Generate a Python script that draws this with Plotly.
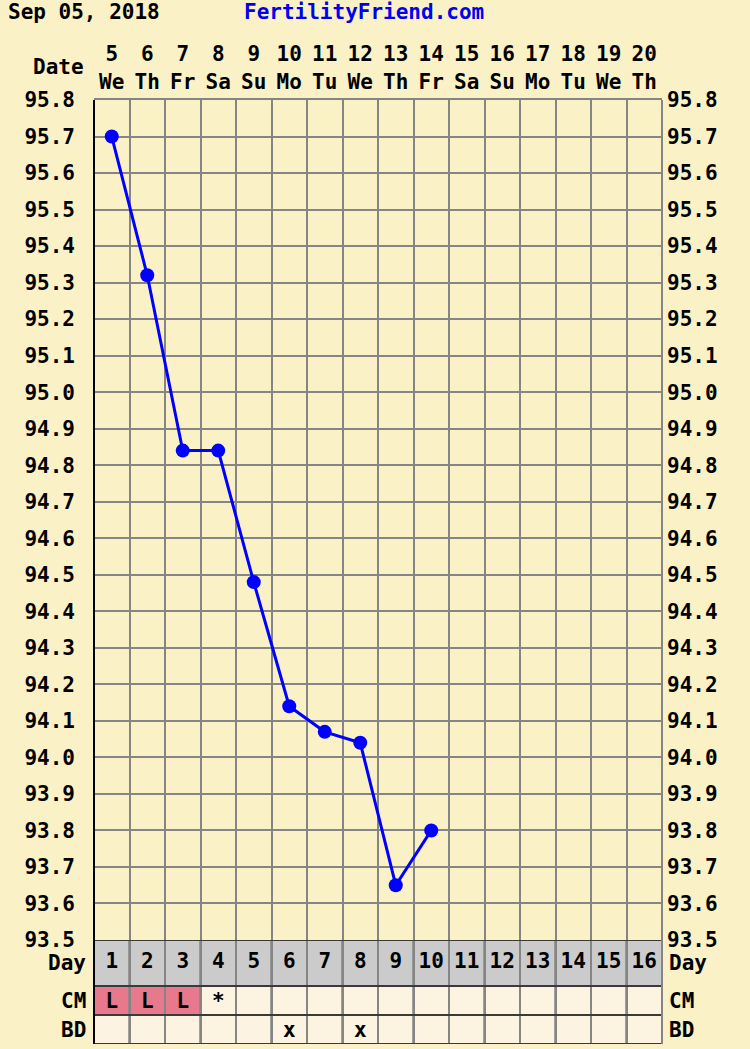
import plotly.graph_objects as go

# ---------------- data ----------------
dates = [5, 6, 7, 8, 9, 10, 11, 12, 13, 14, 15, 16, 17, 18, 19, 20]
weekdays = ["We", "Th", "Fr", "Sa", "Su", "Mo", "Tu", "We", "Th", "Fr",
            "Sa", "Su", "Mo", "Tu", "We", "Th"]
cycle_days = list(range(1, 17))
temps = [95.70, 95.32, 94.84, 94.84, 94.48, 94.14, 94.07, 94.04, 93.65, 93.80]
cm_values = ["L", "L", "L", "*", "", "", "", "", "", "", "", "", "", "", "", ""]
bd_values = ["", "", "", "", "", "x", "", "x", "", "", "", "", "", "", "", ""]
temp_ticks = [round(93.5 + 0.1 * i, 1) for i in range(24)]
title_date = "Sep 05, 2018"
site = "FertilityFriend.com"

# ---------------- style / layout constants ----------------
W, H = 750, 1049
ML, MR, MT, MB = 94, 88, 100, 5
PLOT_H = H - MT - MB
BAND = 104
ROW_EDGES = [0, 46, 75, 104]
D = BAND / PLOT_H

BG = "#FAF1C6"
GRID = "#858585"
DARK = "#3a3a3a"
DAYROW = "#CBCBCB"
CELL = "#FCF3E1"
PINK = "#E8798C"
BLUE = "#0000FF"
FONT = "DejaVu Sans Mono"
FS = 21

fig = go.Figure()
fig.add_trace(go.Scatter(
    x=cycle_days[:len(temps)], y=temps, mode="lines+markers",
    line=dict(color=BLUE, width=3), marker=dict(color=BLUE, size=14),
    xaxis="x", yaxis="y", showlegend=False, hoverinfo="skip"))

row_centers = [(ROW_EDGES[i] + ROW_EDGES[i + 1]) / 2 for i in range(3)]
tf = dict(family=FONT, size=FS, color="black", weight="bold")
for vals, yc in [([str(d) for d in cycle_days], row_centers[0]),
                 (cm_values, row_centers[1] + 2),
                 (bd_values, row_centers[2] + 2)]:
    fig.add_trace(go.Scatter(
        x=cycle_days, y=[yc] * len(cycle_days), mode="text",
        text=vals, textfont=tf,
        xaxis="x", yaxis="y2", showlegend=False, hoverinfo="skip"))

shapes = []
for i, d in enumerate(cycle_days):
    fills = [DAYROW, PINK if cm_values[i] == "L" else CELL, CELL]
    for r in range(3):
        shapes.append(dict(type="rect", xref="x", yref="y2",
                           x0=d - 0.5, x1=d + 0.5,
                           y0=ROW_EDGES[r], y1=ROW_EDGES[r + 1],
                           fillcolor=fills[r], line=dict(color=GRID, width=2),
                           layer="below"))
for e in ROW_EDGES:
    shapes.append(dict(type="line", xref="paper", yref="y2", x0=0, x1=1,
                       y0=e, y1=e, line=dict(color=DARK, width=2)))
shapes.append(dict(type="line", xref="paper", yref="paper", x0=0, x1=0,
                   y0=0, y1=1, line=dict(color="black", width=2)))
shapes.append(dict(type="line", xref="paper", yref="paper", x0=1, x1=1,
                   y0=0, y1=1, line=dict(color=GRID, width=2)))

annotations = []
for lab, c in zip(["Day", "CM", "BD"], row_centers):
    annotations.append(dict(text=lab, xref="paper", yref="y2", x=0, y=c,
                            xanchor="right", yanchor="middle", xshift=-6,
                            showarrow=False, font=tf))
    annotations.append(dict(text=lab, xref="paper", yref="y2", x=1, y=c,
                            xanchor="left", yanchor="middle", xshift=5,
                            showarrow=False, font=tf))
annotations.append(dict(text="Date", xref="paper", yref="paper", x=0, y=1,
                        xanchor="right", yanchor="middle", xshift=-8,
                        yshift=33, showarrow=False, font=tf))
annotations.append(dict(text=title_date, xref="paper", yref="paper", x=0, y=1,
                        xanchor="left", yanchor="middle", xshift=-88,
                        yshift=MT - 12, showarrow=False, font=tf))
annotations.append(dict(text=site, xref="paper", yref="paper", x=0, y=1,
                        xanchor="left", yanchor="middle", xshift=148,
                        yshift=MT - 12, showarrow=False,
                        font=dict(family=FONT, size=FS, color="#0000EE",
                                  weight="bold")))

tick_text = [f"{t:.1f}" for t in temp_ticks]

fig.update_layout(
    width=W, height=H, autosize=False,
    margin=dict(l=ML, r=MR, t=MT, b=MB, pad=0, autoexpand=False),
    paper_bgcolor=BG, plot_bgcolor=BG, showlegend=False,
    shapes=shapes, annotations=annotations,
    xaxis=dict(domain=[0, 1], range=[0.5, 16.5], anchor="y", side="top",
               automargin=False,
               tickvals=cycle_days,
               ticktext=[f"{d}<br>{w}" for d, w in zip(dates, weekdays)],
               tickfont=tf, ticks="", ticklabelstandoff=1,
               showgrid=False, zeroline=False,
               showline=True, linecolor=GRID, linewidth=2,
               minor=dict(tick0=0.5, dtick=1, showgrid=True,
                          gridcolor=GRID, gridwidth=2, ticks="")),
    yaxis=dict(domain=[D, 1], range=[93.5, 95.8], anchor="x",
               automargin=False,
               tickvals=temp_ticks, ticktext=tick_text, tickfont=tf,
               ticks="", ticklabelstandoff=18,
               showgrid=True, gridcolor=GRID, gridwidth=2,
               zeroline=False, showline=False),
    yaxis3=dict(overlaying="y", side="right", anchor="x",
                automargin=False,
                range=[93.5, 95.8], tickvals=temp_ticks, ticktext=tick_text,
                tickfont=tf, ticks="", ticklabelstandoff=4,
                showgrid=False, zeroline=False, showline=False),
    yaxis2=dict(domain=[0, D], range=[BAND, 0], anchor="x",
                automargin=False,
                showticklabels=False, showgrid=False, zeroline=False,
                showline=False, ticks=""),
)
fig.add_trace(go.Scatter(x=[None], y=[None], xaxis="x", yaxis="y3",
                         showlegend=False, hoverinfo="skip"))

fig.write_html("out.html",
               config={"displayModeBar": False},
               post_script="document.body.style.margin='0';")
